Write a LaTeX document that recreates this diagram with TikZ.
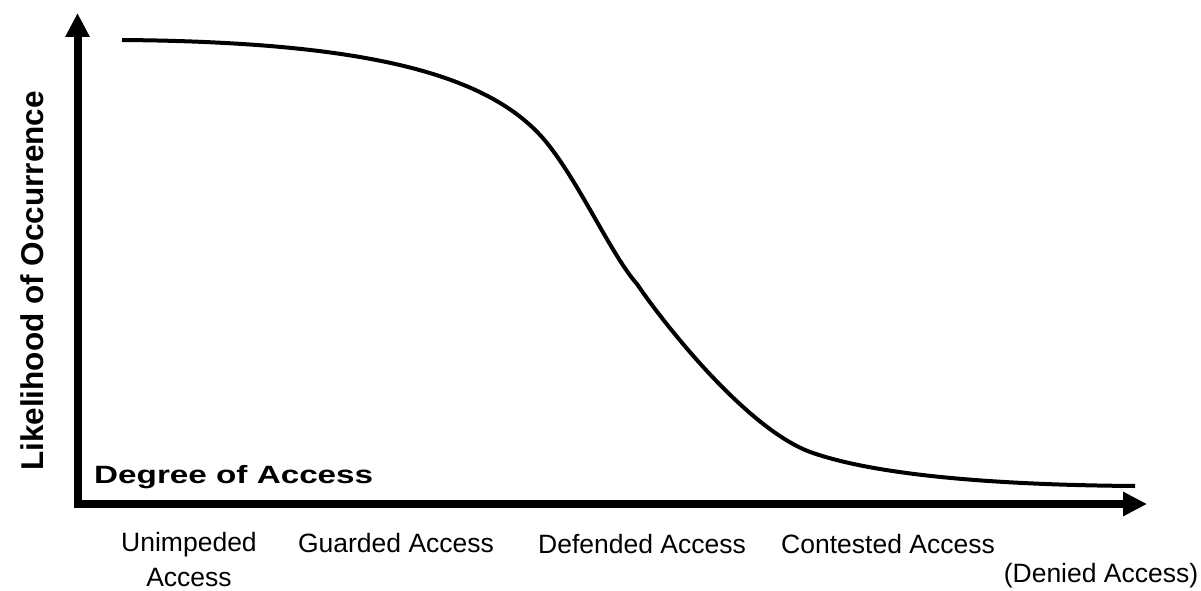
\documentclass[tikz,border=0pt]{standalone}
\usepackage{fontspec}
\setmainfont{Liberation Sans}
\usetikzlibrary{arrows.meta}
\newcommand{\widebf}[1]{\scalebox{1.33}[1]{\bfseries #1}}
\tikzset{
  axis/.style={line width=8pt,line join=miter,{Triangle[width=23pt,length=24pt]}-{Triangle[width=23pt,length=24pt]}},
  level/.style={font=\fontsize{26.5}{35}\selectfont,align=center,anchor=base,inner sep=0pt},
  title/.style={font=\fontsize{25}{30}\selectfont,inner sep=0pt}
}
\begin{document}
\begin{tikzpicture}[x=1pt,y=1pt]
\useasboundingbox (0,0) rectangle (1201,590);
\coordinate (O) at (77.5,86);
\coordinate (ytop) at (77.5,577);
\coordinate (xend) at (1147,86);
\draw[axis] (ytop)--(O)--(xend);
% curve
\coordinate (C0) at (122,550);
\coordinate (C1) at (547,447);
\coordinate (C2) at (637,306);
\coordinate (C3) at (813,137);
\coordinate (C4) at (1135,104);
\draw[line width=4pt] (C0) .. controls (370,548) and (492,515) .. (C1)
  .. controls (580,406) and (612,334) .. (C2)
  .. controls (657,276) and (745,160) .. (C3)
  .. controls (880,114) and (1000,105) .. (C4);
% axis titles
\node[title,anchor=base west] (xlab) at (94,107) {\widebf{Degree of Access}};
\node[font=\fontsize{31.5}{38}\selectfont\bfseries,inner sep=0pt,rotate=90,anchor=base] (ylab) at (43,309) {Likelihood of Occurrence};
% levels
\node[level] (L1) at (189,4) {Unimpeded\\Access};
\node[level] (L2) at (396,38) {Guarded Access};
\node[level] (L3) at (642,37) {Defended Access};
\node[level] (L4) at (888,37) {Contested Access};
\node[level] (L5) at (1101,8) {(Denied Access)};
\end{tikzpicture}
\end{document}
